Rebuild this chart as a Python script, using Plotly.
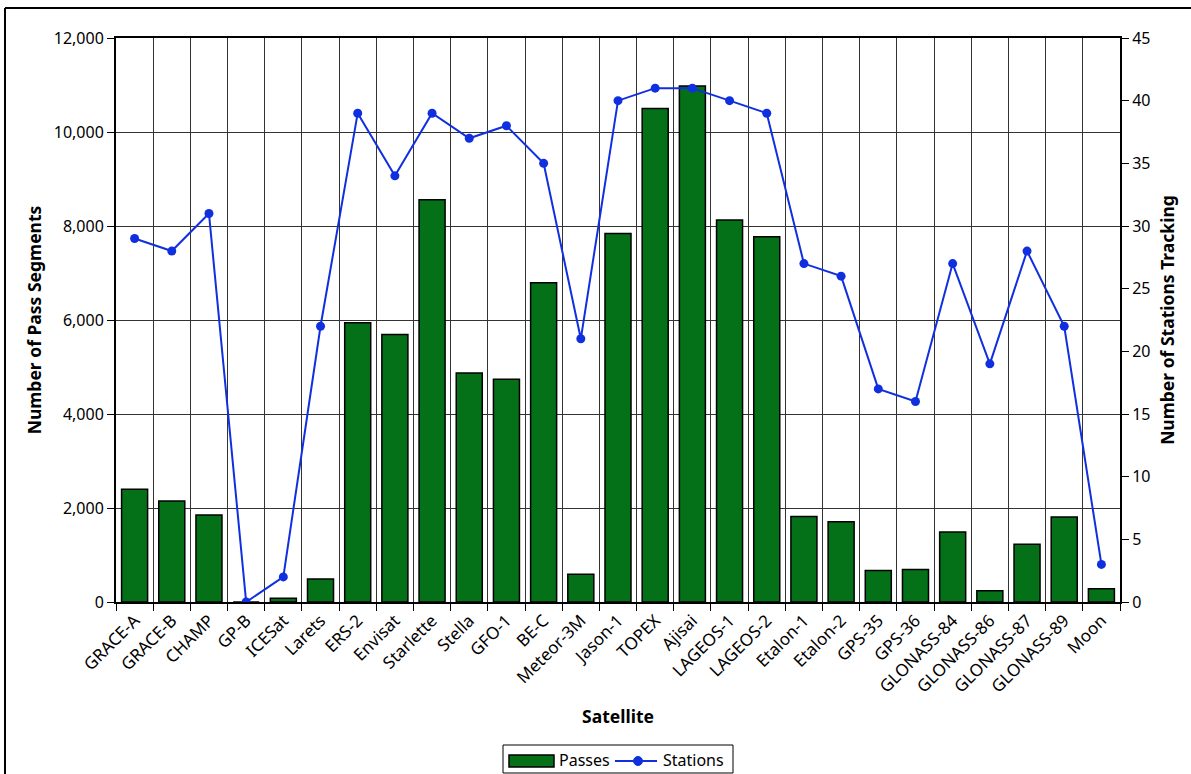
import plotly.graph_objects as go

satellites = ["GRACE-A", "GRACE-B", "CHAMP", "GP-B", "ICESat", "Larets", "ERS-2",
              "Envisat", "Starlette", "Stella", "GFO-1", "BE-C", "Meteor-3M", "Jason-1",
              "TOPEX", "Ajisai", "LAGEOS-1", "LAGEOS-2", "Etalon-1", "Etalon-2",
              "GPS-35", "GPS-36", "GLONASS-84", "GLONASS-86", "GLONASS-87",
              "GLONASS-89", "Moon"]
passes = [2400, 2150, 1850, 0, 80, 490, 5940, 5690, 8560, 4870, 4740, 6790, 590,
          7840, 10500, 10980, 8130, 7770, 1820, 1710, 670, 690, 1490, 240, 1230,
          1810, 280]
stations = [29, 28, 31, 0, 2, 22, 39, 34, 39, 37, 38, 35, 21, 40, 41, 41, 40, 39,
            27, 26, 17, 16, 27, 19, 28, 22, 3]

FONT = "Noto Sans"
GREEN = "#047018"
BLUE = "#1030E0"

fig = go.Figure()
fig.add_trace(go.Bar(
    x=satellites, y=passes, name="Passes",
    marker=dict(color=GREEN, line=dict(color="black", width=1.5)),
))
fig.add_trace(go.Scatter(
    x=satellites, y=stations, name="Stations", yaxis="y2",
    mode="lines+markers",
    line=dict(color=BLUE, width=2),
    marker=dict(color=BLUE, size=9, symbol="circle"),
))

# plot area in pixels
L, R, T, B = 116, 1120, 38, 602
W, H = R - L, B - T


def px(x):
    return (x - L) / W


def py(y):
    return (B - y) / H


# hand-built legend box below the axis title
shapes = [
    # outer frame (top and left edges)
    dict(type="line", xref="paper", yref="paper", x0=px(5), x1=px(1200),
         y0=py(8), y1=py(8), line=dict(color="black", width=2)),
    dict(type="line", xref="paper", yref="paper", x0=px(5), x1=px(5),
         y0=py(8), y1=py(790), line=dict(color="black", width=2)),
    # legend border
    dict(type="rect", xref="paper", yref="paper", x0=px(503), x1=px(733),
         y0=py(773), y1=py(745), line=dict(color="black", width=1),
         fillcolor="white"),
    # Passes swatch
    dict(type="rect", xref="paper", yref="paper", x0=px(509), x1=px(554),
         y0=py(767), y1=py(755), line=dict(color="black", width=1.5),
         fillcolor=GREEN),
    # Stations swatch
    dict(type="line", xref="paper", yref="paper", x0=px(615), x1=px(657),
         y0=py(761), y1=py(761), line=dict(color=BLUE, width=2)),
    dict(type="circle", xref="paper", yref="paper", x0=px(633.5), x1=px(642.5),
         y0=py(765.5), y1=py(756.5), line=dict(color=BLUE, width=1),
         fillcolor=BLUE),
]
annotations = [
    dict(text="Passes", xref="paper", yref="paper", x=px(557), y=py(760),
         xanchor="left", yanchor="middle", showarrow=False,
         font=dict(size=16, family=FONT, color="black")),
    dict(text="Stations", xref="paper", yref="paper", x=px(661), y=py(760),
         xanchor="left", yanchor="middle", showarrow=False,
         font=dict(size=16, family=FONT, color="black")),
]

fig.update_layout(
    width=1191, height=774,
    margin=dict(l=L, r=1191 - R, t=T, b=774 - B),
    paper_bgcolor="white", plot_bgcolor="white",
    font=dict(family=FONT, size=16, color="black"),
    bargap=0.3,
    showlegend=False,
    xaxis=dict(
        type="category", tickson="boundaries", range=[-0.5, len(satellites) - 0.5],
        tickangle=-45, tickfont=dict(size=17),
        showgrid=True, gridcolor="#333333", gridwidth=1,
        showline=True, linecolor="black", linewidth=2, mirror=True,
        ticks="outside", ticklen=7, tickcolor="black",
        title=dict(text="<b>Satellite</b>", font=dict(size=17.5), standoff=14),
    ),
    yaxis=dict(
        range=[0, 12000], dtick=2000, tickformat=",d",
        showgrid=True, gridcolor="#333333", gridwidth=1,
        showline=True, linecolor="black", linewidth=2, mirror=True,
        ticks="outside", ticklen=7, tickcolor="black",
        tickfont=dict(size=16),
        title=dict(text="<b>Number of Pass Segments</b>", font=dict(size=17.5), standoff=8),
        zeroline=False,
    ),
    yaxis2=dict(
        overlaying="y", side="right", range=[0, 45], dtick=5,
        showgrid=False, zeroline=False,
        showline=True, linecolor="black", linewidth=2,
        ticks="outside", ticklen=7, tickcolor="black",
        tickfont=dict(size=16),
        title=dict(text="<b>Number of Stations Tracking</b>", font=dict(size=17.5), standoff=12),
    ),
    shapes=shapes,
    annotations=annotations,
)

fig.write_html("out.html")
